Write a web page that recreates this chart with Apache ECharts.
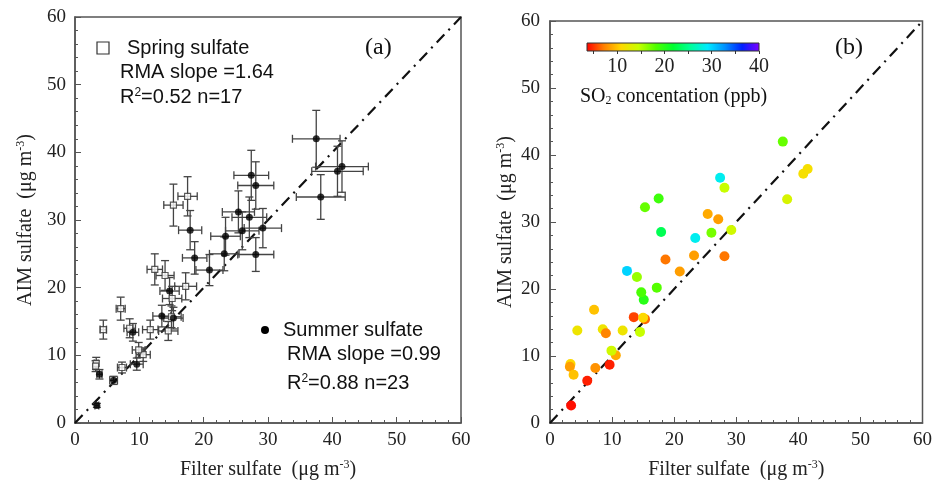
<!DOCTYPE html>
<html><head><meta charset="utf-8">
<script src="https://cdn.jsdelivr.net/npm/echarts@6/dist/echarts.min.js"></script>
<style>html,body{margin:0;padding:0;background:#fff}#c{width:935px;height:485px}</style>
</head><body><div id="c"></div>
<script>
// ---- data ----
const filterSulfate = [3.4,6.0,7.3,3.3,3.2,3.8,9.6,10.6,9.9,4.4,8.5,9.0,11.7,7.1,14.5,13.5,15.3,15.0,15.1,14.7,17.2,14.0,12.4,20.9,18.6,23.2,23.4,28.1,26.0,29.2,17.9,27.4,28.1,17.5,15.3,25.4,27.1,37.5,41.5,40.8,38.2];
const aimSulfate = [2.6,6.3,8.2,8.8,8.4,7.2,8.7,10.1,10.8,13.8,14.0,13.4,13.8,16.9,13.6,15.8,15.5,15.7,18.4,19.5,20.2,21.8,22.7,22.6,24.4,25.0,27.6,24.9,28.4,28.8,28.5,36.6,35.1,33.5,32.2,31.2,30.4,42.0,37.9,37.2,33.4];
const season = ['summer','summer','spring','spring','spring','summer','summer','spring','spring','spring','spring','summer','spring','spring','spring','summer','summer','spring','spring','summer','spring','spring','spring','summer','summer','summer','summer','summer','summer','summer','summer','summer','summer','spring','spring','summer','summer','summer','summer','summer','summer'];
const filterErr = [0.3,0.6,0.7,0.3,0.3,0.4,1.0,1.1,1.0,0.5,0.9,0.9,1.2,0.7,1.5,1.4,1.5,1.5,1.5,1.5,1.7,1.4,1.2,2.1,1.9,2.3,2.3,2.8,2.6,2.9,1.8,2.7,2.8,1.5,1.5,2.5,2.7,3.7,4.1,4.0,3.8];
const aimErr = [0.3,0.6,0.8,0.9,0.8,0.7,0.9,1.0,1.1,1.4,1.4,1.3,1.4,1.7,1.4,1.6,1.6,1.6,1.8,2.0,2.0,2.2,2.3,2.3,2.4,2.5,2.8,2.5,2.8,2.9,2.9,3.7,3.5,2.9,3.1,3.1,3.0,4.2,3.8,3.7,3.3];
const so2 = [4,4.5,8,11,8.5,10,4.5,9,14,12,12,7.5,12,10,14.5,5.5,6.5,11,20,18.5,18,16,30,8.5,7,8.5,28.5,7,17,14,23,28.5,14.5,19,17.5,9,8.5,17.5,11.5,11.5,13.5];
const axisRange = [0, 60];
const oneToOne = [0, 60];
const so2Range = [3.6, 40];
const colorbarLabels = [10, 20, 30, 40];
const colorbarTicks = [5, 10, 15, 20, 25, 30, 35, 40];
const rainbow = ['#ff0000','#ff7f00','#ffd800','#c8ff00','#50ff00','#00ff30','#00ff99','#00eaff','#0090ff','#0020ff','#7f00ff'];

// ---- build series data ----
const springPts = [], summerPts = [], errPts = [], colorPts = [];
filterSulfate.forEach((x, i) => {
  const y = aimSulfate[i];
  (season[i] === 'spring' ? springPts : summerPts).push([x, y]);
  errPts.push([x, y, filterErr[i], aimErr[i]]);
  colorPts.push([x, y, so2[i]]);
});
const lineData = [[oneToOne[0], oneToOne[0]], [oneToOne[1], oneToOne[1]]];

const SERIF = 'Liberation Serif';
const SANS = 'Liberation Sans';
const AX = '#555';

function renderErr(params, api) {
  const x = api.value(0), y = api.value(1), ex = api.value(2), ey = api.value(3);
  const c = api.coord([x, y]);
  const l = api.coord([x - ex, y])[0], r = api.coord([x + ex, y])[0];
  const t = api.coord([x, y + ey])[1], b = api.coord([x, y - ey])[1];
  const cap = 4;
  const style = { stroke: '#444', lineWidth: 1.3 };
  return { type: 'group', children: [
    { type: 'line', shape: { x1: l, y1: c[1], x2: r, y2: c[1] }, style },
    { type: 'line', shape: { x1: l, y1: c[1] - cap, x2: l, y2: c[1] + cap }, style },
    { type: 'line', shape: { x1: r, y1: c[1] - cap, x2: r, y2: c[1] + cap }, style },
    { type: 'line', shape: { x1: c[0], y1: t, x2: c[0], y2: b }, style },
    { type: 'line', shape: { x1: c[0] - cap, y1: t, x2: c[0] + cap, y2: t }, style },
    { type: 'line', shape: { x1: c[0] - cap, y1: b, x2: c[0] + cap, y2: b }, style }
  ]};
}

const supRich = {
  sup: { fontFamily: SERIF, fontSize: 12, verticalAlign: 'top', padding: [0, 0, 10, 0], color: '#222' }
};

function mkX(gi, nameGap) {
  return {
    type: 'value', gridIndex: gi, min: axisRange[0], max: axisRange[1], interval: 10,
    name: 'Filter sulfate  (μg m{sup|-3})', nameLocation: 'middle', nameGap: nameGap, nameMoveOverlap: false,
    nameTextStyle: { fontFamily: SERIF, fontSize: 20, color: '#222', rich: supRich },
    axisLine: { lineStyle: { color: AX, width: 1.5 } },
    axisTick: { inside: true, length: 6, lineStyle: { color: AX } },
    minorTick: { show: true, splitNumber: 5, length: 3, lineStyle: { color: AX } },
    axisLabel: { fontFamily: SERIF, fontSize: 19, color: '#222', margin: 8 },
    splitLine: { show: false }
  };
}
function mkY(gi, nameGap, margin) {
  return {
    type: 'value', gridIndex: gi, min: axisRange[0], max: axisRange[1], interval: 10,
    name: 'AIM sulfate  (μg m{sup|-3})', nameLocation: 'middle', nameGap: nameGap, nameMoveOverlap: false,
    nameTextStyle: { fontFamily: SERIF, fontSize: 20, color: '#222', rich: supRich },
    axisLine: { lineStyle: { color: AX, width: 1.5 } },
    axisTick: { inside: true, length: 6, lineStyle: { color: AX } },
    minorTick: { show: true, splitNumber: 5, length: 3, lineStyle: { color: AX } },
    axisLabel: { fontFamily: SERIF, fontSize: 19, color: '#222', margin: margin },
    splitLine: { show: false }
  };
}

const gradStops = rainbow.map((c, i) => ({ offset: i / (rainbow.length - 1), color: c }));

const option = {
  animation: false,
  backgroundColor: '#fff',
  grid: [
    { left: 75, top: 17, width: 386, height: 408, show: true, borderColor: AX, borderWidth: 1.5, backgroundColor: 'transparent' },
    { left: 550, top: 21, width: 377, height: 403, show: true, borderColor: AX, borderWidth: 1.5, backgroundColor: 'transparent' },
    { left: 587, top: 43, width: 172, height: 8, show: true, borderColor: '#333', borderWidth: 1,
      backgroundColor: new echarts.graphic.LinearGradient(0, 0, 1, 0, gradStops) }
  ],
  xAxis: [
    mkX(0, 36), mkX(1, 36),
    { type: 'value', gridIndex: 2, min: so2Range[0], max: so2Range[1],
      axisLine: { show: false }, splitLine: { show: false },
      axisTick: { customValues: colorbarTicks, length: 3, lineStyle: { color: '#333' } },
      axisLabel: { customValues: colorbarLabels, fontFamily: SERIF, fontSize: 20, color: '#222', margin: 6 } }
  ],
  yAxis: [
    mkY(0, 38, 9), mkY(1, 33, 10),
    { type: 'value', gridIndex: 2, min: 0, max: 1, show: false }
  ],
  visualMap: {
    type: 'continuous', show: false, min: so2Range[0], max: so2Range[1], dimension: 2,
    seriesIndex: 5, inRange: { color: rainbow }
  },
  series: [
    { type: 'line', xAxisIndex: 0, yAxisIndex: 0, data: lineData, symbol: 'none', z: 1,
      lineStyle: { color: '#111', width: 2.2, type: [11, 6, 2, 6] } },
    { type: 'custom', xAxisIndex: 0, yAxisIndex: 0, data: errPts, renderItem: renderErr, z: 2 },
    { type: 'scatter', xAxisIndex: 0, yAxisIndex: 0, data: springPts, symbol: 'rect', symbolSize: 6, z: 3,
      itemStyle: { color: '#fff', borderColor: '#333', borderWidth: 1.2 } },
    { type: 'scatter', xAxisIndex: 0, yAxisIndex: 0, data: summerPts, symbol: 'circle', symbolSize: 7, z: 4,
      itemStyle: { color: '#000' } },
    { type: 'line', xAxisIndex: 1, yAxisIndex: 1, data: lineData, symbol: 'none', z: 1,
      lineStyle: { color: '#111', width: 2.2, type: [11, 6, 2, 6] } },
    { type: 'scatter', xAxisIndex: 1, yAxisIndex: 1, data: colorPts, symbol: 'circle', symbolSize: 10, z: 3,
      itemStyle: { opacity: 1 } }
  ],
  graphic: [
    { type: 'rect', shape: { x: 97, y: 42, width: 12, height: 12 }, style: { fill: '#fff', stroke: '#333', lineWidth: 1.2 } },
    { type: 'text', x: 127, y: 48, style: { text: 'Spring sulfate', font: '20px ' + SANS, fill: '#111', verticalAlign: 'middle' } },
    { type: 'text', x: 120, y: 72, style: { text: 'RMA slope =1.64', font: '20px ' + SANS, fill: '#111', verticalAlign: 'middle' } },
    { type: 'text', x: 120, y: 97, style: { text: '{n|R}{s|2}{n|=0.52 n=17}', verticalAlign: 'middle', fill: '#111',
      rich: { n: { fontFamily: SANS, fontSize: 20, fill: '#111' }, s: { fontFamily: SANS, fontSize: 12, verticalAlign: 'top', fill: '#111' } } } },
    { type: 'text', x: 365, y: 48, style: { text: '(a)', font: '24px ' + SERIF, fill: '#111', verticalAlign: 'middle' } },
    { type: 'circle', shape: { cx: 265, cy: 330, r: 4 }, style: { fill: '#000' } },
    { type: 'text', x: 283, y: 330, style: { text: 'Summer sulfate', font: '20px ' + SANS, fill: '#111', verticalAlign: 'middle' } },
    { type: 'text', x: 287, y: 354, style: { text: 'RMA slope =0.99', font: '20px ' + SANS, fill: '#111', verticalAlign: 'middle' } },
    { type: 'text', x: 287, y: 383, style: { text: '{n|R}{s|2}{n|=0.88 n=23}', verticalAlign: 'middle', fill: '#111',
      rich: { n: { fontFamily: SANS, fontSize: 20, fill: '#111' }, s: { fontFamily: SANS, fontSize: 12, verticalAlign: 'top', fill: '#111' } } } },
    { type: 'text', x: 835, y: 48, style: { text: '(b)', font: '24px ' + SERIF, fill: '#111', verticalAlign: 'middle' } },
    { type: 'text', x: 580, y: 97, style: { text: '{n|SO}{s|2}{n| concentation (ppb)}', verticalAlign: 'middle', fill: '#111',
      rich: { n: { fontFamily: SERIF, fontSize: 20, fill: '#111' }, s: { fontFamily: SERIF, fontSize: 12, verticalAlign: 'bottom', fill: '#111' } } } }
  ]
};

const chart = echarts.init(document.getElementById('c'), null, { renderer: 'canvas' });
chart.setOption(option);
</script>
</body></html>
